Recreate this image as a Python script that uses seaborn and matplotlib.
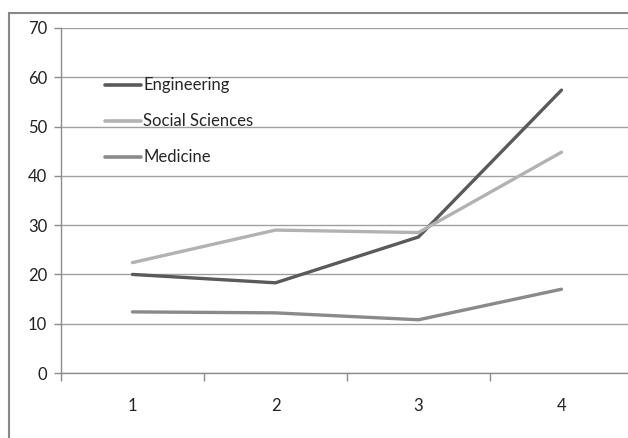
import matplotlib
matplotlib.use("Agg")
import matplotlib.pyplot as plt
from matplotlib.patches import Rectangle
import pandas as pd
import seaborn as sns

categories = [1, 2, 3, 4]
engineering = [20.0, 18.3, 27.6, 57.4]
social_sciences = [22.4, 29.0, 28.5, 44.8]
medicine = [12.4, 12.2, 10.8, 17.0]
y_ticks = [0, 10, 20, 30, 40, 50, 60, 70]

series_names = ["Engineering", "Social Sciences", "Medicine"]
colors = {"Engineering": "#5a5a5a", "Social Sciences": "#b2b2b2", "Medicine": "#8a8a8a"}

df = pd.DataFrame({
    "x": categories * 3,
    "value": engineering + social_sciences + medicine,
    "series": [n for n in series_names for _ in categories],
})

sns.set_theme(style="white")
plt.rcParams["font.family"] = ["Lato", "DejaVu Sans"]

fig = plt.figure(figsize=(6.28, 4.38), dpi=100)
fig.patch.set_facecolor("white")

# outer chart-area frame
fig.patches.append(Rectangle((9 / 628, -0.1), 1.2, 1 - 13 / 438 + 0.1,
                             transform=fig.transFigure, fill=False,
                             edgecolor="#888888", linewidth=1.5))

ax = fig.add_axes([61 / 628, 65 / 438, 572 / 628, 345 / 438])

sns.lineplot(data=df, x="x", y="value", hue="series", palette=colors,
             hue_order=series_names, linewidth=2.4, ax=ax, legend=False)

ax.set_xlim(0.5, 4.5)
ax.set_ylim(0, 70)
ax.set_yticks(y_ticks)
ax.set_xticks(categories)
ax.set_xticks([0.5, 1.5, 2.5, 3.5, 4.5], minor=True)
ax.set_xlabel("")
ax.set_ylabel("")

ax.grid(axis="y", color="#a0a0a0", linewidth=1.0)
ax.set_axisbelow(True)
for s in ["top", "right"]:
    ax.spines[s].set_visible(False)
for s in ["left", "bottom"]:
    ax.spines[s].set_color("#8c8c8c")
    ax.spines[s].set_linewidth(1.0)

ax.tick_params(axis="y", which="major", length=5, width=1, color="#8c8c8c",
               labelsize=12, labelcolor="#222222", pad=5, left=True)
ax.tick_params(axis="x", which="major", length=0, labelsize=12,
               labelcolor="#222222", pad=18)
ax.tick_params(axis="x", which="minor", length=6, width=1, color="#8c8c8c",
               bottom=True, direction="out")

handles = [plt.Line2D([], [], color=colors[n], linewidth=2.6) for n in series_names]
ax.legend(handles, series_names, loc="upper left", bbox_to_anchor=(0.077, 0.857),
          frameon=False, fontsize=12, handlelength=2.15, handletextpad=0.15,
          labelspacing=1.2, borderaxespad=0, borderpad=0)

fig.savefig("out.png", dpi=100)
